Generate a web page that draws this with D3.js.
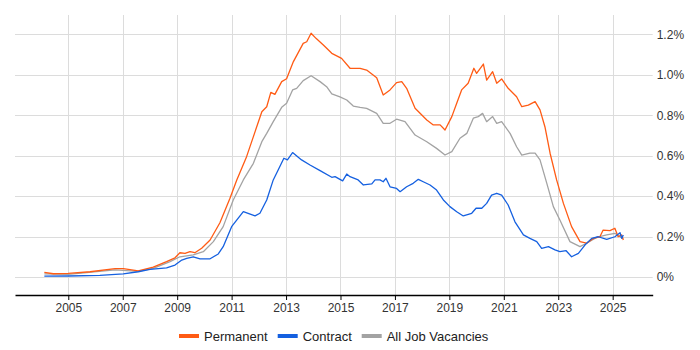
<!DOCTYPE html>
<html>
<head>
<meta charset="utf-8">
<script src="https://cdn.jsdelivr.net/npm/d3@7"></script>
<style>
  html, body { margin: 0; padding: 0; background: #fff; }
  svg { display: block; font-family: "Liberation Sans", Arial, sans-serif; }
</style>
</head>
<body>
<svg id="chart" width="700" height="350"></svg>
<script>
// ---- Data (year, % of job vacancies) ----
const permanent = [
  [2004.12,0.023],[2004.45,0.016],[2005.0,0.018],[2005.80,0.026],[2006.72,0.041],[2007.02,0.041],
  [2007.57,0.030],[2008.12,0.049],[2008.61,0.076],[2008.92,0.095],[2009.10,0.12],[2009.29,0.117],
  [2009.47,0.125],[2009.65,0.12],[2009.90,0.142],[2010.21,0.183],[2010.57,0.268],[2010.94,0.389],
  [2011.19,0.48],[2011.55,0.595],[2011.80,0.694],[2012.11,0.817],[2012.29,0.842],[2012.44,0.913],
  [2012.59,0.903],[2012.84,0.966],[2013.02,0.98],[2013.27,1.065],[2013.63,1.155],[2013.76,1.163],
  [2013.92,1.205],[2014.10,1.18],[2014.37,1.147],[2014.68,1.106],[2015.04,1.081],[2015.35,1.032],
  [2015.72,1.032],[2015.96,1.023],[2016.33,0.985],[2016.57,0.90],[2016.82,0.925],[2017.06,0.961],
  [2017.25,0.966],[2017.43,0.933],[2017.74,0.834],[2018.17,0.776],[2018.41,0.752],[2018.66,0.752],
  [2018.84,0.727],[2019.09,0.793],[2019.27,0.859],[2019.45,0.925],[2019.69,0.958],[2019.90,1.032],
  [2020.00,1.007],[2020.25,1.053],[2020.37,0.974],[2020.59,1.015],[2020.74,0.958],[2020.92,0.979],
  [2021.16,0.933],[2021.47,0.891],[2021.66,0.842],[2021.90,0.85],[2022.15,0.867],[2022.33,0.826],
  [2022.51,0.743],[2022.70,0.612],[2022.94,0.48],[2023.19,0.364],[2023.49,0.249],[2023.80,0.175],
  [2024.04,0.167],[2024.29,0.191],[2024.53,0.199],[2024.65,0.232],[2024.90,0.229],[2025.08,0.241],
  [2025.20,0.199],[2025.33,0.208],[2025.39,0.183]
];
const contract = [
  [2004.12,0.004],[2005.0,0.005],[2006.16,0.008],[2007.02,0.015],[2007.57,0.026],[2008.0,0.038],
  [2008.61,0.045],[2008.92,0.059],[2009.17,0.084],[2009.35,0.092],[2009.59,0.10],[2009.84,0.09],
  [2010.21,0.09],[2010.51,0.114],[2010.69,0.15],[2011.0,0.249],[2011.43,0.323],[2011.86,0.302],
  [2012.04,0.315],[2012.29,0.381],[2012.53,0.48],[2012.71,0.529],[2012.92,0.587],[2013.05,0.579],
  [2013.24,0.615],[2013.57,0.579],[2013.88,0.554],[2014.25,0.526],[2014.68,0.493],[2014.80,0.496],
  [2015.08,0.475],[2015.23,0.509],[2015.35,0.496],[2015.65,0.48],[2015.84,0.455],[2016.15,0.46],
  [2016.27,0.48],[2016.45,0.48],[2016.57,0.471],[2016.67,0.488],[2016.82,0.446],[2017.06,0.438],
  [2017.19,0.422],[2017.43,0.446],[2017.67,0.463],[2017.86,0.483],[2018.04,0.471],[2018.29,0.455],
  [2018.53,0.43],[2018.78,0.381],[2019.02,0.348],[2019.27,0.323],[2019.51,0.302],[2019.82,0.315],
  [2019.98,0.34],[2020.19,0.34],[2020.37,0.364],[2020.55,0.405],[2020.74,0.414],[2020.92,0.405],
  [2021.16,0.356],[2021.41,0.273],[2021.72,0.208],[2021.96,0.191],[2022.21,0.175],[2022.39,0.142],
  [2022.64,0.15],[2022.88,0.134],[2023.06,0.125],[2023.29,0.13],[2023.49,0.10],[2023.74,0.117],
  [2023.98,0.158],[2024.23,0.191],[2024.47,0.199],[2024.78,0.186],[2025.08,0.199],[2025.27,0.219],
  [2025.33,0.191],[2025.39,0.208]
];
const allJobs = [
  [2004.12,0.015],[2005.0,0.013],[2006.72,0.035],[2007.57,0.028],[2008.12,0.043],[2008.74,0.076],
  [2009.10,0.10],[2009.59,0.109],[2009.96,0.125],[2010.33,0.175],[2010.69,0.249],[2011.06,0.381],
  [2011.43,0.48],[2011.80,0.562],[2012.11,0.669],[2012.29,0.71],[2012.53,0.768],[2012.84,0.839],
  [2013.02,0.859],[2013.24,0.925],[2013.39,0.933],[2013.63,0.971],[2013.92,0.995],[2014.25,0.966],
  [2014.49,0.941],[2014.68,0.905],[2014.98,0.891],[2015.23,0.875],[2015.47,0.845],[2015.72,0.839],
  [2015.96,0.834],[2016.33,0.809],[2016.57,0.76],[2016.82,0.76],[2017.06,0.78],[2017.37,0.768],
  [2017.74,0.702],[2018.17,0.669],[2018.53,0.636],[2018.84,0.603],[2019.09,0.62],[2019.39,0.686],
  [2019.64,0.71],[2019.88,0.785],[2020.06,0.793],[2020.22,0.809],[2020.37,0.768],[2020.59,0.793],
  [2020.74,0.76],[2020.92,0.768],[2021.23,0.71],[2021.47,0.644],[2021.66,0.603],[2021.96,0.612],
  [2022.15,0.612],[2022.33,0.579],[2022.58,0.463],[2022.82,0.348],[2023.06,0.282],[2023.43,0.175],
  [2023.80,0.15],[2024.04,0.167],[2024.41,0.196],[2024.78,0.208],[2025.08,0.216],[2025.27,0.199],
  [2025.39,0.191]
];
const xTickYears = [2005, 2007, 2009, 2011, 2013, 2015, 2017, 2019, 2021, 2023, 2025];
const yTickValues = [0, 0.2, 0.4, 0.6, 0.8, 1.0, 1.2];
const seriesNames = ["Permanent", "Contract", "All Job Vacancies"];
const seriesColors = ["#ff5b14", "#1560e0", "#a3a3a3"];

// ---- Layout ----
const plotLeft = 15, plotRight = 652.7, plotTop = 15, plotBottom = 295;
const svg = d3.select("#chart");

const x = d3.scaleLinear().domain([2003.042, 2026.47]).range([plotLeft, plotRight]);
const y = d3.scaleLinear().domain([0, 1.2]).range([277, 34.3]);

// gridlines
const grid = svg.append("g");
grid.selectAll("line.v").data(xTickYears).join("line")
  .attr("x1", d => Math.round(x(d)) + 0.5).attr("x2", d => Math.round(x(d)) + 0.5)
  .attr("y1", plotTop).attr("y2", plotBottom)
  .attr("stroke", "#dcdcdc").attr("stroke-width", 1);
grid.selectAll("line.h").data(yTickValues).join("line")
  .attr("x1", plotLeft).attr("x2", plotRight)
  .attr("y1", d => Math.round(y(d)) + 0.5).attr("y2", d => Math.round(y(d)) + 0.5)
  .attr("stroke", "#dcdcdc").attr("stroke-width", 1);

// x axis
const xAxis = d3.axisBottom(x).tickValues(xTickYears).tickFormat(d3.format("d"))
  .tickSize(5).tickSizeOuter(0).tickPadding(3);
const gx = svg.append("g").attr("transform", `translate(0,${plotBottom})`).call(xAxis);
gx.select(".domain").attr("stroke", "#000").attr("stroke-width", 1.5);
gx.selectAll(".tick line").attr("stroke", "#000");
gx.selectAll(".tick text").attr("font-size", 12).attr("fill", "#333")
  .attr("font-family", "'Liberation Sans', Arial, sans-serif");

// y axis (labels on right)
const yAxis = d3.axisRight(y).tickValues(yTickValues)
  .tickFormat(d => d === 0 ? "0%" : d.toFixed(1) + "%").tickSize(0).tickPadding(4);
const gy = svg.append("g").attr("transform", `translate(${plotRight},0)`).call(yAxis);
gy.select(".domain").remove();
gy.selectAll(".tick text").attr("font-size", 12).attr("fill", "#333")
  .attr("font-family", "'Liberation Sans', Arial, sans-serif");

// lines
const line = d3.line().x(d => x(d[0])).y(d => y(d[1])).curve(d3.curveLinear);
const drawOrder = [[allJobs, 2], [permanent, 0], [contract, 1]];
drawOrder.forEach(([data, i]) => {
  svg.append("path").datum(data)
    .attr("d", line)
    .attr("fill", "none")
    .attr("stroke", seriesColors[i])
    .attr("stroke-width", 1.3)
    .attr("stroke-linejoin", "round");
});

// legend
const legendItems = [
  { name: seriesNames[0], color: seriesColors[0], x: 179 },
  { name: seriesNames[1], color: seriesColors[1], x: 277.7 },
  { name: seriesNames[2], color: seriesColors[2], x: 361.7 }
];
const lg = svg.append("g");
legendItems.forEach(it => {
  lg.append("rect").attr("x", it.x).attr("y", 334).attr("width", 20).attr("height", 4)
    .attr("fill", it.color);
  lg.append("text").attr("x", it.x + 25).attr("y", 340.5)
    .attr("font-size", 13).attr("fill", "#222")
    .attr("font-family", "'Liberation Sans', Arial, sans-serif")
    .text(it.name);
});
</script>
</body>
</html>
